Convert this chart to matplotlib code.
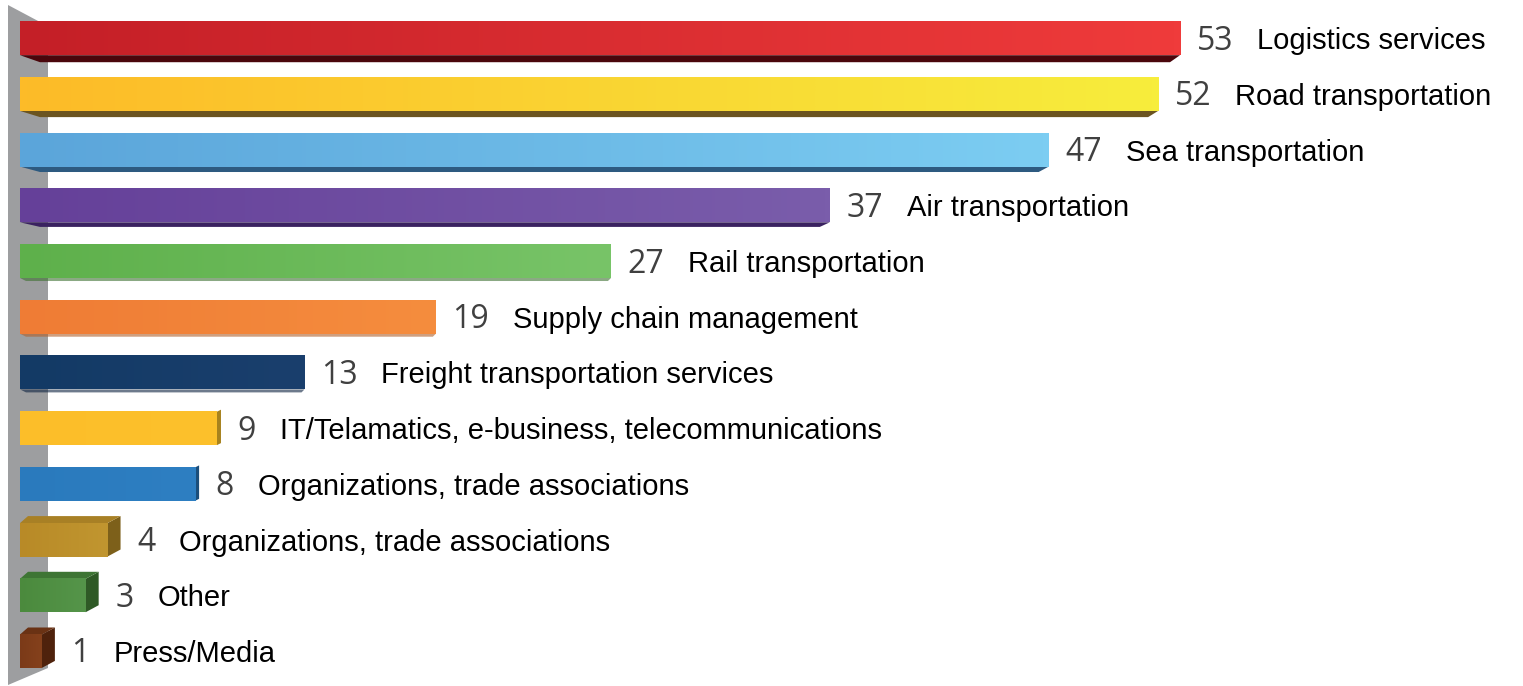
import matplotlib
matplotlib.use("Agg")
import matplotlib.pyplot as plt
import numpy as np
from matplotlib.colors import LinearSegmentedColormap
from matplotlib.patches import Polygon

# ---- data ----
categories = [
    "Logistics services",
    "Road transportation",
    "Sea transportation",
    "Air transportation",
    "Rail transportation",
    "Supply chain management",
    "Freight transportation services",
    "IT/Telamatics, e-business, telecommunications",
    "Organizations, trade associations",
    "Organizations, trade associations",
    "Other",
    "Press/Media",
]
values = [53, 52, 47, 37, 27, 19, 13, 9, 8, 4, 3, 1]

# ---- style ----
left_colors = ["#c41f27", "#fdbb28", "#5ba5da", "#654099", "#5eb04b", "#ef7c35",
               "#133a65", "#fdbe29", "#2a7abd", "#b88a27", "#4b8a3d", "#7b3a18"]
right_colors = ["#ef3b3b", "#f7ed3c", "#7ccdf2", "#7a5dab", "#78c468", "#f58d3e",
                "#1a3f6d", "#fcc12c", "#2e7fc2", "#c19630", "#55954a", "#85411c"]
shade_colors = ["#4a060c", "#6b5420", "#2d5a80", "#3a2260", "#3d7030", "#b0602a",
                "#0c2240", "#a7821e", "#1b4e7a", "#7d601a", "#2f5a26", "#4f220c"]
top_colors = [None] * 9 + ["#a88025", "#3e7534", "#6a3214"]

W, H = 1523, 686
fig = plt.figure(figsize=(W / 100, H / 100), dpi=100)
ax = fig.add_axes([0, 0, 1, 1])

X0 = 20.0                       # pixel of value 0
S = (1180.0 - X0) / values[0]   # pixels per unit
R0, RS = 38.5, 55.7             # first row centre px, row spacing px
ax.set_xlim(-X0 / S, (W - X0) / S)
ax.set_ylim((H - R0) / RS, -R0 / RS)
ax.axis("off")

def px(dx):
    return dx / S

def py(dy):
    return dy / RS

h = 0.6

# back wall
wall = Polygon([(px(-12), py(5 - R0)), (px(20), py(22 - R0)), (px(28), py(22 - R0)),
                (px(28), py(668 - R0)), (px(-12), py(685 - R0))],
               closed=True, facecolor="#9d9e a0".replace(" ", ""), edgecolor="none", zorder=0)
ax.add_patch(wall)

n = len(values)
for i, (v, lab) in enumerate(zip(values, categories)):
    top, bot = i - h / 2, i + h / 2
    extent_right = v
    if i <= 3:
        # bottom face (seen from below)
        d = 7 - i * 0.8
        poly = Polygon([(0, bot), (v, bot), (v - px(10), bot + py(d)), (px(20), bot + py(d))],
                       closed=True, facecolor=shade_colors[i], edgecolor="none", zorder=2)
        ax.add_patch(poly)
    elif i <= 6:
        poly = Polygon([(0, bot), (v, bot), (v - px(3), bot + py(3)), (px(6), bot + py(3))],
                       closed=True, facecolor=shade_colors[i], edgecolor="none", zorder=2, alpha=0.6)
        ax.add_patch(poly)
    else:
        dx = 4 if i <= 8 else 13
        dy = 2 if i <= 8 else 7
        side = Polygon([(v, top), (v + px(dx), top - py(dy)), (v + px(dx), bot - py(dy)), (v, bot)],
                       closed=True, facecolor=shade_colors[i], edgecolor="none", zorder=2)
        ax.add_patch(side)
        if top_colors[i] is not None:
            tp = Polygon([(0, top), (px(8), top - py(dy)), (v + px(dx), top - py(dy)), (v, top)],
                         closed=True, facecolor=top_colors[i], edgecolor="none", zorder=2)
            ax.add_patch(tp)
        extent_right = v + px(dx)

    cmap = LinearSegmentedColormap.from_list(f"g{i}", [left_colors[i], right_colors[i]])
    grad = np.linspace(0, 1, 256).reshape(1, -1)
    ax.imshow(grad, cmap=cmap, extent=(0, v, bot, top), aspect="auto",
              interpolation="bilinear", zorder=3)

    num = ax.annotate(str(v), xy=(extent_right, i), xytext=(12, -2), textcoords="offset points",
                      ha="left", va="center", fontsize=23, color="#404040",
                      family=["Open Sans", "DejaVu Sans"], zorder=4)
    ax.annotate(lab, xy=(1, 0.5), xycoords=num, xytext=(17, 0), textcoords="offset points",
                ha="left", va="center", fontsize=21, color="#000000",
                family=["Liberation Sans", "DejaVu Sans"], zorder=4)

ax.set_xlim(-X0 / S, (W - X0) / S)
ax.set_ylim((H - R0) / RS, -R0 / RS)

fig.savefig("out.png", dpi=100)
